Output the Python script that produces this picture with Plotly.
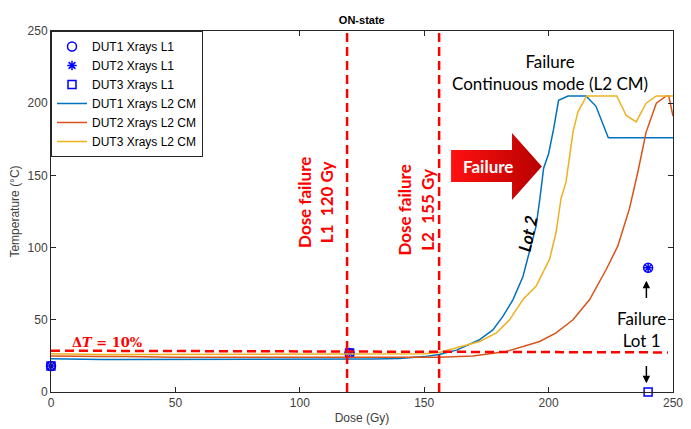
import plotly.graph_objects as go

# ---------------- data ----------------
dut1_dose = [0, 10, 20, 30, 40, 50, 60, 70, 80, 90, 100, 110, 120, 130, 140, 150, 156, 163, 172, 177.6, 181.7,
             185.7, 189.7, 193, 195, 196.5, 198, 200, 202, 204, 207.8, 215, 219, 224, 230, 240, 250]
dut1_temp = [23, 22.5, 22.5, 22.5, 22.5, 22.5, 22.5, 22.5, 22.5, 22.5, 22.5, 22.5, 22.5, 22.8, 23.2, 24.5, 26, 29, 36, 43, 52.5,
             64, 80, 101, 115, 134, 155, 165, 182, 202, 205, 205, 198, 176, 176, 176, 176]

dut2_dose = [0, 10, 20, 30, 40, 50, 60, 70, 80, 90, 100, 110, 120, 130, 140, 150, 156, 169.6, 183, 196.4, 203, 209.8,
             216.5, 223.2, 227.8, 232.5, 235.9, 239.2, 243.3, 247.3, 248.3, 250]
dut2_temp = [25, 24.5, 24.5, 24.5, 24, 24, 24, 24, 24, 24, 24, 24, 24, 24, 24, 24, 24, 25, 28, 35, 41, 50,
             64, 85, 101, 127, 152.5, 180, 200, 205, 205, 191]

dut3_dose = [0, 10, 20, 30, 40, 50, 60, 70, 80, 90, 100, 110, 120, 130, 140, 150, 156, 163, 172.3, 179, 184.3, 189.7,
             195, 200.4, 203, 205, 207, 209.8, 211.8, 215.3, 227.4, 231.2, 235.2, 239.2, 243.3, 250]
dut3_temp = [26.5, 26, 26, 26, 26, 26, 26, 26, 26, 26, 26, 26, 26, 26, 26, 26.5, 27.4, 30.5, 35, 41, 50, 64,
             73.4, 92, 110.6, 134, 145.5, 180, 194, 205, 205, 191.5, 187, 200, 205, 205]

l1_dose = [0, 120, 240]
dut1_l1_temp = [18, 27, 86]
dut2_l1_temp = [18, 27, 86]
dut3_l1_temp = [18, 27, 0]

x_ticks = [0, 50, 100, 150, 200, 250]
y_ticks = [0, 50, 100, 150, 200, 250]

dose_fail_l1 = 119
dose_fail_l2 = 156
delta_t_level = 28

# ---------------- figure ----------------
BLUE = "#0000FF"
C1, C2, C3 = "#0072BD", "#D95319", "#EDB120"
RED = "#FF0000"
AX = "#262626"
TXT = "#404040"

fig = go.Figure()

# decoration: "Failure" block arrow with gradient
arrow_x = [160.8, 185.3, 185.3, 197.3, 185.3, 185.3, 160.8, 160.8]
arrow_y = [167.6, 167.6, 179.4, 156.2, 133.0, 145.4, 145.4, 167.6]
fig.add_trace(go.Scatter(x=arrow_x, y=arrow_y, mode="lines", fill="toself",
                         line=dict(width=0, color="rgba(0,0,0,0)"),
                         fillgradient=dict(type="horizontal",
                                           colorscale=[[0, "#FF1010"], [1, "#B80000"]]),
                         showlegend=False, hoverinfo="skip"))

fig.add_trace(go.Scatter(x=l1_dose, y=dut1_l1_temp, mode="markers", name="DUT1 Xrays L1",
                         marker=dict(symbol="circle-open", size=9, color=BLUE, line=dict(width=1.5, color=BLUE)),
                         cliponaxis=False))
fig.add_trace(go.Scatter(x=l1_dose, y=dut2_l1_temp, mode="markers", name="DUT2 Xrays L1",
                         marker=dict(symbol="asterisk-open", size=8, color=BLUE, line=dict(width=1.5, color=BLUE)),
                         cliponaxis=False))
fig.add_trace(go.Scatter(x=l1_dose, y=dut3_l1_temp, mode="markers", name="DUT3 Xrays L1",
                         marker=dict(symbol="square-open", size=8, color=BLUE, line=dict(width=1.5, color=BLUE)),
                         cliponaxis=False))
fig.add_trace(go.Scatter(x=dut1_dose, y=dut1_temp, mode="lines", name="DUT1 Xrays L2 CM",
                         line=dict(color=C1, width=1.5)))
fig.add_trace(go.Scatter(x=dut2_dose, y=dut2_temp, mode="lines", name="DUT2 Xrays L2 CM",
                         line=dict(color=C2, width=1.5)))
fig.add_trace(go.Scatter(x=dut3_dose, y=dut3_temp, mode="lines", name="DUT3 Xrays L2 CM",
                         line=dict(color=C3, width=1.5)))

# dashed red reference lines
dash = "9px,5px"
for xv in (dose_fail_l1, dose_fail_l2):
    fig.add_shape(type="line", xref="x", yref="y", x0=xv, x1=xv, y0=0, y1=250,
                  line=dict(color=RED, width=2.5, dash=dash))
fig.add_shape(type="line", xref="x", yref="y", x0=0, x1=248, y0=delta_t_level + 0.6, y1=delta_t_level - 0.6,
              line=dict(color=RED, width=2.5, dash=dash))

ann_font = "Lato, Open Sans, sans-serif"
annotations = [
    dict(x=106.5, y=131.6, text="<b>Dose failure<br>L1&nbsp;&nbsp;120 Gy</b>", textangle=-90,
         font=dict(family=ann_font, size=17, color=RED)),
    dict(x=146.5, y=126, text="<b>Dose failure<br>L2&nbsp;&nbsp;155 Gy</b>", textangle=-90,
         font=dict(family=ann_font, size=17, color=RED)),
    dict(x=200.5, y=221.6, text="Failure<br>Continuous mode (L2 CM)",
         font=dict(family=ann_font, size=17, color="black")),
    dict(x=175.5, y=156.2, text="<b>Failure</b>", font=dict(family=ann_font, size=17, color="white")),
    dict(x=191.5, y=110, text="<b><i>Lot 2</i></b>", textangle=-78,
         font=dict(family=ann_font, size=17, color="black")),
    dict(x=237.5, y=43.3, text="Failure<br>Lot 1", font=dict(family=ann_font, size=17, color="black")),
    dict(x=7.5, y=34, text="<b>Δ<i>T</i> = 10%</b>", xanchor="left",
         font=dict(family="DejaVu Serif, serif", size=13, color=RED)),
]
for a in annotations:
    a.update(xref="x", yref="y", showarrow=False)
    fig.add_annotation(**a)

# black arrows for Lot 1
fig.add_annotation(x=239.3, y=77, ax=239.3, ay=64, xref="x", yref="y", axref="x", ayref="y",
                   text="", showarrow=True, arrowhead=2, arrowsize=1, arrowwidth=1.5, arrowcolor="black")
fig.add_annotation(x=239.3, y=6, ax=239.3, ay=19, xref="x", yref="y", axref="x", ayref="y",
                   text="", showarrow=True, arrowhead=2, arrowsize=1, arrowwidth=1.5, arrowcolor="black")

axis_common = dict(showline=True, linecolor=AX, linewidth=1, mirror="ticks", ticks="inside",
                   ticklen=5, tickcolor=AX, showgrid=False, zeroline=False, automargin=False,
                   tickfont=dict(family="Liberation Sans, Arial", size=12, color=TXT))

# the page body has an 8px margin, so the figure is sized/offset to compensate
fig.update_layout(
    width=683, height=421,
    margin=dict(l=43, r=18, t=23, b=37, autoexpand=False),
    paper_bgcolor="white", plot_bgcolor="white",
    title=dict(text="<b>ON-state</b>", x=0.518, xanchor="center", y=0.971, yanchor="middle",
               font=dict(family="Liberation Sans, Arial", size=11, color="black")),
    xaxis=dict(range=[0, 250], tickvals=x_ticks,
               title=dict(text="Dose (Gy)", standoff=4,
                          font=dict(family="Liberation Sans, Arial", size=12, color=TXT)),
               **axis_common),
    yaxis=dict(range=[0, 250], tickvals=y_ticks,
               title=dict(text="Temperature (°C)", standoff=6,
                          font=dict(family="Liberation Sans, Arial", size=12, color=TXT)),
               **axis_common),
    legend=dict(x=0, y=1, xanchor="left", yanchor="top", bgcolor="white",
                bordercolor=AX, borderwidth=1, tracegroupgap=0,
                font=dict(family="Liberation Sans, Arial", size=12, color="black")),
    showlegend=True,
)

fig.write_html("out.html")
